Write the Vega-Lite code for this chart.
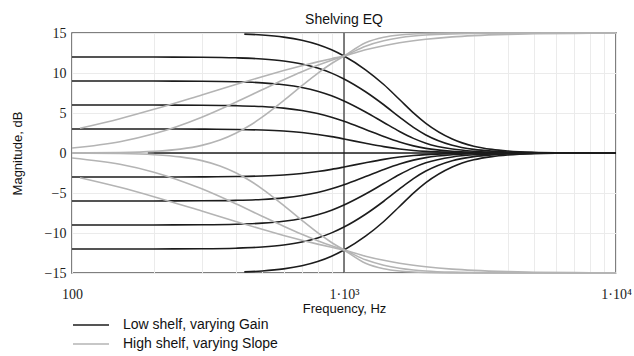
{
  "$schema": "https://vega.github.io/schema/vega-lite/v6.json",
  "width": 544,
  "height": 240,
  "autosize": {"type": "none"},
  "padding": {"left": 72, "top": 33, "right": 18, "bottom": 83},
  "background": "white",
  "title": {"text": "Shelving EQ", "font": "Liberation Sans", "fontSize": 14, "fontWeight": "normal", "color": "#111", "offset": -1, "anchor": "middle"},
  "config": {
    "view": {"stroke": "#555", "strokeWidth": 1.5},
    "axis": {"ticks": false, "domain": false, "grid": true, "gridColor": "#ebebeb", "gridWidth": 1, "labelFont": "Liberation Serif", "labelFontSize": 14, "labelColor": "#222", "titleFont": "Liberation Sans", "titleFontSize": 13, "titleFontWeight": "normal", "titleColor": "#111", "labelOverlap": false, "labelFlush": false}
  },
  "layer": [
    {
      "data": {"values": [{"f": 1000}]},
      "mark": {"type": "rule", "color": "#555", "strokeWidth": 1.5},
      "encoding": {"x": {"field": "f", "type": "quantitative"}}
    },
    {
      "data": {"values": [
        {"c":"L15","t":"Low shelf, varying Gain","f":430,"d":14.859},
        {"c":"L15","t":"Low shelf, varying Gain","f":500,"d":14.745},
        {"c":"L15","t":"Low shelf, varying Gain","f":600,"d":14.489},
        {"c":"L15","t":"Low shelf, varying Gain","f":700,"d":14.098},
        {"c":"L15","t":"Low shelf, varying Gain","f":800,"d":13.565},
        {"c":"L15","t":"Low shelf, varying Gain","f":900,"d":12.898},
        {"c":"L15","t":"Low shelf, varying Gain","f":1000,"d":12.125},
        {"c":"L15","t":"Low shelf, varying Gain","f":1200,"d":10.4},
        {"c":"L15","t":"Low shelf, varying Gain","f":1400,"d":8.56},
        {"c":"L15","t":"Low shelf, varying Gain","f":1600,"d":6.69},
        {"c":"L15","t":"Low shelf, varying Gain","f":1800,"d":5.02},
        {"c":"L15","t":"Low shelf, varying Gain","f":2000,"d":3.71},
        {"c":"L15","t":"Low shelf, varying Gain","f":2500,"d":1.75},
        {"c":"L15","t":"Low shelf, varying Gain","f":3000,"d":0.85},
        {"c":"L15","t":"Low shelf, varying Gain","f":3500,"d":0.45},
        {"c":"L15","t":"Low shelf, varying Gain","f":4000,"d":0.25},
        {"c":"L15","t":"Low shelf, varying Gain","f":5000,"d":0.08},
        {"c":"L15","t":"Low shelf, varying Gain","f":6000,"d":0.03},
        {"c":"L15","t":"Low shelf, varying Gain","f":8000,"d":0.01},
        {"c":"L15","t":"Low shelf, varying Gain","f":10000,"d":0.0},

        {"c":"L12","t":"Low shelf, varying Gain","f":100,"d":12.0},
        {"c":"L12","t":"Low shelf, varying Gain","f":200,"d":11.993},
        {"c":"L12","t":"Low shelf, varying Gain","f":300,"d":11.967},
        {"c":"L12","t":"Low shelf, varying Gain","f":400,"d":11.897},
        {"c":"L12","t":"Low shelf, varying Gain","f":500,"d":11.754},
        {"c":"L12","t":"Low shelf, varying Gain","f":600,"d":11.506},
        {"c":"L12","t":"Low shelf, varying Gain","f":700,"d":11.131},
        {"c":"L12","t":"Low shelf, varying Gain","f":800,"d":10.62},
        {"c":"L12","t":"Low shelf, varying Gain","f":900,"d":9.985},
        {"c":"L12","t":"Low shelf, varying Gain","f":1000,"d":9.256},
        {"c":"L12","t":"Low shelf, varying Gain","f":1200,"d":7.657},
        {"c":"L12","t":"Low shelf, varying Gain","f":1400,"d":6.03},
        {"c":"L12","t":"Low shelf, varying Gain","f":1600,"d":4.49},
        {"c":"L12","t":"Low shelf, varying Gain","f":1800,"d":3.2},
        {"c":"L12","t":"Low shelf, varying Gain","f":2000,"d":2.26},
        {"c":"L12","t":"Low shelf, varying Gain","f":2500,"d":0.97},
        {"c":"L12","t":"Low shelf, varying Gain","f":3000,"d":0.45},
        {"c":"L12","t":"Low shelf, varying Gain","f":3500,"d":0.23},
        {"c":"L12","t":"Low shelf, varying Gain","f":4000,"d":0.12},
        {"c":"L12","t":"Low shelf, varying Gain","f":5000,"d":0.04},
        {"c":"L12","t":"Low shelf, varying Gain","f":6000,"d":0.015},
        {"c":"L12","t":"Low shelf, varying Gain","f":8000,"d":0.005},
        {"c":"L12","t":"Low shelf, varying Gain","f":10000,"d":0.0},

        {"c":"L9","t":"Low shelf, varying Gain","f":100,"d":9.0},
        {"c":"L9","t":"Low shelf, varying Gain","f":200,"d":8.994},
        {"c":"L9","t":"Low shelf, varying Gain","f":300,"d":8.969},
        {"c":"L9","t":"Low shelf, varying Gain","f":400,"d":8.904},
        {"c":"L9","t":"Low shelf, varying Gain","f":500,"d":8.771},
        {"c":"L9","t":"Low shelf, varying Gain","f":600,"d":8.541},
        {"c":"L9","t":"Low shelf, varying Gain","f":700,"d":8.195},
        {"c":"L9","t":"Low shelf, varying Gain","f":800,"d":7.728},
        {"c":"L9","t":"Low shelf, varying Gain","f":900,"d":7.154},
        {"c":"L9","t":"Low shelf, varying Gain","f":1000,"d":6.505},
        {"c":"L9","t":"Low shelf, varying Gain","f":1200,"d":5.131},
        {"c":"L9","t":"Low shelf, varying Gain","f":1400,"d":3.82},
        {"c":"L9","t":"Low shelf, varying Gain","f":1600,"d":2.69},
        {"c":"L9","t":"Low shelf, varying Gain","f":1800,"d":1.83},
        {"c":"L9","t":"Low shelf, varying Gain","f":2000,"d":1.23},
        {"c":"L9","t":"Low shelf, varying Gain","f":2500,"d":0.49},
        {"c":"L9","t":"Low shelf, varying Gain","f":3000,"d":0.22},
        {"c":"L9","t":"Low shelf, varying Gain","f":3500,"d":0.11},
        {"c":"L9","t":"Low shelf, varying Gain","f":4000,"d":0.06},
        {"c":"L9","t":"Low shelf, varying Gain","f":5000,"d":0.02},
        {"c":"L9","t":"Low shelf, varying Gain","f":6000,"d":0.007},
        {"c":"L9","t":"Low shelf, varying Gain","f":8000,"d":0.002},
        {"c":"L9","t":"Low shelf, varying Gain","f":10000,"d":0.0},

        {"c":"L6","t":"Low shelf, varying Gain","f":100,"d":6.0},
        {"c":"L6","t":"Low shelf, varying Gain","f":200,"d":5.995},
        {"c":"L6","t":"Low shelf, varying Gain","f":300,"d":5.974},
        {"c":"L6","t":"Low shelf, varying Gain","f":400,"d":5.918},
        {"c":"L6","t":"Low shelf, varying Gain","f":500,"d":5.804},
        {"c":"L6","t":"Low shelf, varying Gain","f":600,"d":5.61},
        {"c":"L6","t":"Low shelf, varying Gain","f":700,"d":5.32},
        {"c":"L6","t":"Low shelf, varying Gain","f":800,"d":4.934},
        {"c":"L6","t":"Low shelf, varying Gain","f":900,"d":4.472},
        {"c":"L6","t":"Low shelf, varying Gain","f":1000,"d":3.963},
        {"c":"L6","t":"Low shelf, varying Gain","f":1200,"d":2.945},
        {"c":"L6","t":"Low shelf, varying Gain","f":1400,"d":2.06},
        {"c":"L6","t":"Low shelf, varying Gain","f":1600,"d":1.37},
        {"c":"L6","t":"Low shelf, varying Gain","f":1800,"d":0.89},
        {"c":"L6","t":"Low shelf, varying Gain","f":2000,"d":0.58},
        {"c":"L6","t":"Low shelf, varying Gain","f":2500,"d":0.22},
        {"c":"L6","t":"Low shelf, varying Gain","f":3000,"d":0.096},
        {"c":"L6","t":"Low shelf, varying Gain","f":3500,"d":0.048},
        {"c":"L6","t":"Low shelf, varying Gain","f":4000,"d":0.026},
        {"c":"L6","t":"Low shelf, varying Gain","f":5000,"d":0.008},
        {"c":"L6","t":"Low shelf, varying Gain","f":6000,"d":0.003},
        {"c":"L6","t":"Low shelf, varying Gain","f":8000,"d":0.001},
        {"c":"L6","t":"Low shelf, varying Gain","f":10000,"d":0.0},

        {"c":"L3","t":"Low shelf, varying Gain","f":100,"d":3.0},
        {"c":"L3","t":"Low shelf, varying Gain","f":200,"d":2.996},
        {"c":"L3","t":"Low shelf, varying Gain","f":300,"d":2.983},
        {"c":"L3","t":"Low shelf, varying Gain","f":400,"d":2.946},
        {"c":"L3","t":"Low shelf, varying Gain","f":500,"d":2.871},
        {"c":"L3","t":"Low shelf, varying Gain","f":600,"d":2.744},
        {"c":"L3","t":"Low shelf, varying Gain","f":700,"d":2.559},
        {"c":"L3","t":"Low shelf, varying Gain","f":800,"d":2.32},
        {"c":"L3","t":"Low shelf, varying Gain","f":900,"d":2.044},
        {"c":"L3","t":"Low shelf, varying Gain","f":1000,"d":1.754},
        {"c":"L3","t":"Low shelf, varying Gain","f":1200,"d":1.218},
        {"c":"L3","t":"Low shelf, varying Gain","f":1400,"d":0.8},
        {"c":"L3","t":"Low shelf, varying Gain","f":1600,"d":0.51},
        {"c":"L3","t":"Low shelf, varying Gain","f":1800,"d":0.32},
        {"c":"L3","t":"Low shelf, varying Gain","f":2000,"d":0.205},
        {"c":"L3","t":"Low shelf, varying Gain","f":2500,"d":0.076},
        {"c":"L3","t":"Low shelf, varying Gain","f":3000,"d":0.032},
        {"c":"L3","t":"Low shelf, varying Gain","f":3500,"d":0.016},
        {"c":"L3","t":"Low shelf, varying Gain","f":4000,"d":0.009},
        {"c":"L3","t":"Low shelf, varying Gain","f":5000,"d":0.003},
        {"c":"L3","t":"Low shelf, varying Gain","f":6000,"d":0.001},
        {"c":"L3","t":"Low shelf, varying Gain","f":8000,"d":0.0},
        {"c":"L3","t":"Low shelf, varying Gain","f":10000,"d":0.0},

        {"c":"L0","t":"Low shelf, varying Gain","f":190,"d":0.0},
        {"c":"L0","t":"Low shelf, varying Gain","f":10000,"d":0.0},

        {"c":"Lm3","t":"Low shelf, varying Gain","f":100,"d":-3.0},
        {"c":"Lm3","t":"Low shelf, varying Gain","f":200,"d":-2.996},
        {"c":"Lm3","t":"Low shelf, varying Gain","f":300,"d":-2.983},
        {"c":"Lm3","t":"Low shelf, varying Gain","f":400,"d":-2.946},
        {"c":"Lm3","t":"Low shelf, varying Gain","f":500,"d":-2.871},
        {"c":"Lm3","t":"Low shelf, varying Gain","f":600,"d":-2.744},
        {"c":"Lm3","t":"Low shelf, varying Gain","f":700,"d":-2.559},
        {"c":"Lm3","t":"Low shelf, varying Gain","f":800,"d":-2.32},
        {"c":"Lm3","t":"Low shelf, varying Gain","f":900,"d":-2.044},
        {"c":"Lm3","t":"Low shelf, varying Gain","f":1000,"d":-1.754},
        {"c":"Lm3","t":"Low shelf, varying Gain","f":1200,"d":-1.218},
        {"c":"Lm3","t":"Low shelf, varying Gain","f":1400,"d":-0.8},
        {"c":"Lm3","t":"Low shelf, varying Gain","f":1600,"d":-0.51},
        {"c":"Lm3","t":"Low shelf, varying Gain","f":1800,"d":-0.32},
        {"c":"Lm3","t":"Low shelf, varying Gain","f":2000,"d":-0.205},
        {"c":"Lm3","t":"Low shelf, varying Gain","f":2500,"d":-0.076},
        {"c":"Lm3","t":"Low shelf, varying Gain","f":3000,"d":-0.032},
        {"c":"Lm3","t":"Low shelf, varying Gain","f":3500,"d":-0.016},
        {"c":"Lm3","t":"Low shelf, varying Gain","f":4000,"d":-0.009},
        {"c":"Lm3","t":"Low shelf, varying Gain","f":5000,"d":-0.003},
        {"c":"Lm3","t":"Low shelf, varying Gain","f":6000,"d":-0.001},
        {"c":"Lm3","t":"Low shelf, varying Gain","f":8000,"d":0.0},
        {"c":"Lm3","t":"Low shelf, varying Gain","f":10000,"d":0.0},

        {"c":"Lm6","t":"Low shelf, varying Gain","f":100,"d":-6.0},
        {"c":"Lm6","t":"Low shelf, varying Gain","f":200,"d":-5.995},
        {"c":"Lm6","t":"Low shelf, varying Gain","f":300,"d":-5.974},
        {"c":"Lm6","t":"Low shelf, varying Gain","f":400,"d":-5.918},
        {"c":"Lm6","t":"Low shelf, varying Gain","f":500,"d":-5.804},
        {"c":"Lm6","t":"Low shelf, varying Gain","f":600,"d":-5.61},
        {"c":"Lm6","t":"Low shelf, varying Gain","f":700,"d":-5.32},
        {"c":"Lm6","t":"Low shelf, varying Gain","f":800,"d":-4.934},
        {"c":"Lm6","t":"Low shelf, varying Gain","f":900,"d":-4.472},
        {"c":"Lm6","t":"Low shelf, varying Gain","f":1000,"d":-3.963},
        {"c":"Lm6","t":"Low shelf, varying Gain","f":1200,"d":-2.945},
        {"c":"Lm6","t":"Low shelf, varying Gain","f":1400,"d":-2.06},
        {"c":"Lm6","t":"Low shelf, varying Gain","f":1600,"d":-1.37},
        {"c":"Lm6","t":"Low shelf, varying Gain","f":1800,"d":-0.89},
        {"c":"Lm6","t":"Low shelf, varying Gain","f":2000,"d":-0.58},
        {"c":"Lm6","t":"Low shelf, varying Gain","f":2500,"d":-0.22},
        {"c":"Lm6","t":"Low shelf, varying Gain","f":3000,"d":-0.096},
        {"c":"Lm6","t":"Low shelf, varying Gain","f":3500,"d":-0.048},
        {"c":"Lm6","t":"Low shelf, varying Gain","f":4000,"d":-0.026},
        {"c":"Lm6","t":"Low shelf, varying Gain","f":5000,"d":-0.008},
        {"c":"Lm6","t":"Low shelf, varying Gain","f":6000,"d":-0.003},
        {"c":"Lm6","t":"Low shelf, varying Gain","f":8000,"d":-0.001},
        {"c":"Lm6","t":"Low shelf, varying Gain","f":10000,"d":0.0},

        {"c":"Lm9","t":"Low shelf, varying Gain","f":100,"d":-9.0},
        {"c":"Lm9","t":"Low shelf, varying Gain","f":200,"d":-8.994},
        {"c":"Lm9","t":"Low shelf, varying Gain","f":300,"d":-8.969},
        {"c":"Lm9","t":"Low shelf, varying Gain","f":400,"d":-8.904},
        {"c":"Lm9","t":"Low shelf, varying Gain","f":500,"d":-8.771},
        {"c":"Lm9","t":"Low shelf, varying Gain","f":600,"d":-8.541},
        {"c":"Lm9","t":"Low shelf, varying Gain","f":700,"d":-8.195},
        {"c":"Lm9","t":"Low shelf, varying Gain","f":800,"d":-7.728},
        {"c":"Lm9","t":"Low shelf, varying Gain","f":900,"d":-7.154},
        {"c":"Lm9","t":"Low shelf, varying Gain","f":1000,"d":-6.505},
        {"c":"Lm9","t":"Low shelf, varying Gain","f":1200,"d":-5.131},
        {"c":"Lm9","t":"Low shelf, varying Gain","f":1400,"d":-3.82},
        {"c":"Lm9","t":"Low shelf, varying Gain","f":1600,"d":-2.69},
        {"c":"Lm9","t":"Low shelf, varying Gain","f":1800,"d":-1.83},
        {"c":"Lm9","t":"Low shelf, varying Gain","f":2000,"d":-1.23},
        {"c":"Lm9","t":"Low shelf, varying Gain","f":2500,"d":-0.49},
        {"c":"Lm9","t":"Low shelf, varying Gain","f":3000,"d":-0.22},
        {"c":"Lm9","t":"Low shelf, varying Gain","f":3500,"d":-0.11},
        {"c":"Lm9","t":"Low shelf, varying Gain","f":4000,"d":-0.06},
        {"c":"Lm9","t":"Low shelf, varying Gain","f":5000,"d":-0.02},
        {"c":"Lm9","t":"Low shelf, varying Gain","f":6000,"d":-0.007},
        {"c":"Lm9","t":"Low shelf, varying Gain","f":8000,"d":-0.002},
        {"c":"Lm9","t":"Low shelf, varying Gain","f":10000,"d":0.0},

        {"c":"Lm12","t":"Low shelf, varying Gain","f":100,"d":-12.0},
        {"c":"Lm12","t":"Low shelf, varying Gain","f":200,"d":-11.993},
        {"c":"Lm12","t":"Low shelf, varying Gain","f":300,"d":-11.967},
        {"c":"Lm12","t":"Low shelf, varying Gain","f":400,"d":-11.897},
        {"c":"Lm12","t":"Low shelf, varying Gain","f":500,"d":-11.754},
        {"c":"Lm12","t":"Low shelf, varying Gain","f":600,"d":-11.506},
        {"c":"Lm12","t":"Low shelf, varying Gain","f":700,"d":-11.131},
        {"c":"Lm12","t":"Low shelf, varying Gain","f":800,"d":-10.62},
        {"c":"Lm12","t":"Low shelf, varying Gain","f":900,"d":-9.985},
        {"c":"Lm12","t":"Low shelf, varying Gain","f":1000,"d":-9.256},
        {"c":"Lm12","t":"Low shelf, varying Gain","f":1200,"d":-7.657},
        {"c":"Lm12","t":"Low shelf, varying Gain","f":1400,"d":-6.03},
        {"c":"Lm12","t":"Low shelf, varying Gain","f":1600,"d":-4.49},
        {"c":"Lm12","t":"Low shelf, varying Gain","f":1800,"d":-3.2},
        {"c":"Lm12","t":"Low shelf, varying Gain","f":2000,"d":-2.26},
        {"c":"Lm12","t":"Low shelf, varying Gain","f":2500,"d":-0.97},
        {"c":"Lm12","t":"Low shelf, varying Gain","f":3000,"d":-0.45},
        {"c":"Lm12","t":"Low shelf, varying Gain","f":3500,"d":-0.23},
        {"c":"Lm12","t":"Low shelf, varying Gain","f":4000,"d":-0.12},
        {"c":"Lm12","t":"Low shelf, varying Gain","f":5000,"d":-0.04},
        {"c":"Lm12","t":"Low shelf, varying Gain","f":6000,"d":-0.015},
        {"c":"Lm12","t":"Low shelf, varying Gain","f":8000,"d":-0.005},
        {"c":"Lm12","t":"Low shelf, varying Gain","f":10000,"d":0.0},

        {"c":"Lm15","t":"Low shelf, varying Gain","f":430,"d":-14.859},
        {"c":"Lm15","t":"Low shelf, varying Gain","f":500,"d":-14.745},
        {"c":"Lm15","t":"Low shelf, varying Gain","f":600,"d":-14.489},
        {"c":"Lm15","t":"Low shelf, varying Gain","f":700,"d":-14.098},
        {"c":"Lm15","t":"Low shelf, varying Gain","f":800,"d":-13.565},
        {"c":"Lm15","t":"Low shelf, varying Gain","f":900,"d":-12.898},
        {"c":"Lm15","t":"Low shelf, varying Gain","f":1000,"d":-12.125},
        {"c":"Lm15","t":"Low shelf, varying Gain","f":1200,"d":-10.4},
        {"c":"Lm15","t":"Low shelf, varying Gain","f":1400,"d":-8.56},
        {"c":"Lm15","t":"Low shelf, varying Gain","f":1600,"d":-6.69},
        {"c":"Lm15","t":"Low shelf, varying Gain","f":1800,"d":-5.02},
        {"c":"Lm15","t":"Low shelf, varying Gain","f":2000,"d":-3.71},
        {"c":"Lm15","t":"Low shelf, varying Gain","f":2500,"d":-1.75},
        {"c":"Lm15","t":"Low shelf, varying Gain","f":3000,"d":-0.85},
        {"c":"Lm15","t":"Low shelf, varying Gain","f":3500,"d":-0.45},
        {"c":"Lm15","t":"Low shelf, varying Gain","f":4000,"d":-0.25},
        {"c":"Lm15","t":"Low shelf, varying Gain","f":5000,"d":-0.08},
        {"c":"Lm15","t":"Low shelf, varying Gain","f":6000,"d":-0.03},
        {"c":"Lm15","t":"Low shelf, varying Gain","f":8000,"d":-0.01},
        {"c":"Lm15","t":"Low shelf, varying Gain","f":10000,"d":0.0},

        {"c":"H1","t":"High shelf, varying Slope","f":107,"d":3.087},
        {"c":"H1","t":"High shelf, varying Slope","f":150,"d":4.283},
        {"c":"H1","t":"High shelf, varying Slope","f":200,"d":5.458},
        {"c":"H1","t":"High shelf, varying Slope","f":300,"d":7.261},
        {"c":"H1","t":"High shelf, varying Slope","f":400,"d":8.563},
        {"c":"H1","t":"High shelf, varying Slope","f":500,"d":9.542},
        {"c":"H1","t":"High shelf, varying Slope","f":600,"d":10.3},
        {"c":"H1","t":"High shelf, varying Slope","f":700,"d":10.903},
        {"c":"H1","t":"High shelf, varying Slope","f":800,"d":11.39},
        {"c":"H1","t":"High shelf, varying Slope","f":900,"d":11.791},
        {"c":"H1","t":"High shelf, varying Slope","f":1000,"d":12.125},
        {"c":"H1","t":"High shelf, varying Slope","f":1200,"d":12.895},
        {"c":"H1","t":"High shelf, varying Slope","f":1400,"d":13.416},
        {"c":"H1","t":"High shelf, varying Slope","f":1600,"d":13.778},
        {"c":"H1","t":"High shelf, varying Slope","f":1800,"d":14.036},
        {"c":"H1","t":"High shelf, varying Slope","f":2000,"d":14.225},
        {"c":"H1","t":"High shelf, varying Slope","f":2500,"d":14.519},
        {"c":"H1","t":"High shelf, varying Slope","f":3000,"d":14.677},
        {"c":"H1","t":"High shelf, varying Slope","f":4000,"d":14.83},
        {"c":"H1","t":"High shelf, varying Slope","f":5000,"d":14.897},
        {"c":"H1","t":"High shelf, varying Slope","f":7000,"d":14.953},
        {"c":"H1","t":"High shelf, varying Slope","f":10000,"d":14.979},

        {"c":"H2","t":"High shelf, varying Slope","f":100,"d":0.617},
        {"c":"H2","t":"High shelf, varying Slope","f":150,"d":1.415},
        {"c":"H2","t":"High shelf, varying Slope","f":200,"d":2.4},
        {"c":"H2","t":"High shelf, varying Slope","f":300,"d":4.483},
        {"c":"H2","t":"High shelf, varying Slope","f":400,"d":6.354},
        {"c":"H2","t":"High shelf, varying Slope","f":500,"d":7.902},
        {"c":"H2","t":"High shelf, varying Slope","f":600,"d":9.152},
        {"c":"H2","t":"High shelf, varying Slope","f":700,"d":10.154},
        {"c":"H2","t":"High shelf, varying Slope","f":800,"d":10.957},
        {"c":"H2","t":"High shelf, varying Slope","f":900,"d":11.603},
        {"c":"H2","t":"High shelf, varying Slope","f":1000,"d":12.125},
        {"c":"H2","t":"High shelf, varying Slope","f":1200,"d":13.357},
        {"c":"H2","t":"High shelf, varying Slope","f":1400,"d":14.031},
        {"c":"H2","t":"High shelf, varying Slope","f":1600,"d":14.404},
        {"c":"H2","t":"High shelf, varying Slope","f":1800,"d":14.618},
        {"c":"H2","t":"High shelf, varying Slope","f":2000,"d":14.745},
        {"c":"H2","t":"High shelf, varying Slope","f":2500,"d":14.894},
        {"c":"H2","t":"High shelf, varying Slope","f":3000,"d":14.949},
        {"c":"H2","t":"High shelf, varying Slope","f":4000,"d":14.984},
        {"c":"H2","t":"High shelf, varying Slope","f":5000,"d":14.993},
        {"c":"H2","t":"High shelf, varying Slope","f":7000,"d":14.998},
        {"c":"H2","t":"High shelf, varying Slope","f":10000,"d":15.0},

        {"c":"H3","t":"High shelf, varying Slope","f":100,"d":0.013},
        {"c":"H3","t":"High shelf, varying Slope","f":150,"d":0.067},
        {"c":"H3","t":"High shelf, varying Slope","f":200,"d":0.207},
        {"c":"H3","t":"High shelf, varying Slope","f":250,"d":0.489},
        {"c":"H3","t":"High shelf, varying Slope","f":300,"d":0.955},
        {"c":"H3","t":"High shelf, varying Slope","f":350,"d":1.621},
        {"c":"H3","t":"High shelf, varying Slope","f":400,"d":2.466},
        {"c":"H3","t":"High shelf, varying Slope","f":450,"d":3.436},
        {"c":"H3","t":"High shelf, varying Slope","f":500,"d":4.474},
        {"c":"H3","t":"High shelf, varying Slope","f":600,"d":6.545},
        {"c":"H3","t":"High shelf, varying Slope","f":700,"d":8.407},
        {"c":"H3","t":"High shelf, varying Slope","f":800,"d":9.956},
        {"c":"H3","t":"High shelf, varying Slope","f":900,"d":11.183},
        {"c":"H3","t":"High shelf, varying Slope","f":1000,"d":12.125},
        {"c":"H3","t":"High shelf, varying Slope","f":1200,"d":13.791},
        {"c":"H3","t":"High shelf, varying Slope","f":1400,"d":14.477},
        {"c":"H3","t":"High shelf, varying Slope","f":1600,"d":14.757},
        {"c":"H3","t":"High shelf, varying Slope","f":1800,"d":14.878},
        {"c":"H3","t":"High shelf, varying Slope","f":2000,"d":14.935},
        {"c":"H3","t":"High shelf, varying Slope","f":2500,"d":14.983},
        {"c":"H3","t":"High shelf, varying Slope","f":3000,"d":14.994},
        {"c":"H3","t":"High shelf, varying Slope","f":4000,"d":15.0},
        {"c":"H3","t":"High shelf, varying Slope","f":10000,"d":15.0},

        {"c":"Hm1","t":"High shelf, varying Slope","f":107,"d":-3.087},
        {"c":"Hm1","t":"High shelf, varying Slope","f":150,"d":-4.283},
        {"c":"Hm1","t":"High shelf, varying Slope","f":200,"d":-5.458},
        {"c":"Hm1","t":"High shelf, varying Slope","f":300,"d":-7.261},
        {"c":"Hm1","t":"High shelf, varying Slope","f":400,"d":-8.563},
        {"c":"Hm1","t":"High shelf, varying Slope","f":500,"d":-9.542},
        {"c":"Hm1","t":"High shelf, varying Slope","f":600,"d":-10.3},
        {"c":"Hm1","t":"High shelf, varying Slope","f":700,"d":-10.903},
        {"c":"Hm1","t":"High shelf, varying Slope","f":800,"d":-11.39},
        {"c":"Hm1","t":"High shelf, varying Slope","f":900,"d":-11.791},
        {"c":"Hm1","t":"High shelf, varying Slope","f":1000,"d":-12.125},
        {"c":"Hm1","t":"High shelf, varying Slope","f":1200,"d":-12.895},
        {"c":"Hm1","t":"High shelf, varying Slope","f":1400,"d":-13.416},
        {"c":"Hm1","t":"High shelf, varying Slope","f":1600,"d":-13.778},
        {"c":"Hm1","t":"High shelf, varying Slope","f":1800,"d":-14.036},
        {"c":"Hm1","t":"High shelf, varying Slope","f":2000,"d":-14.225},
        {"c":"Hm1","t":"High shelf, varying Slope","f":2500,"d":-14.519},
        {"c":"Hm1","t":"High shelf, varying Slope","f":3000,"d":-14.677},
        {"c":"Hm1","t":"High shelf, varying Slope","f":4000,"d":-14.83},
        {"c":"Hm1","t":"High shelf, varying Slope","f":5000,"d":-14.897},
        {"c":"Hm1","t":"High shelf, varying Slope","f":7000,"d":-14.953},
        {"c":"Hm1","t":"High shelf, varying Slope","f":10000,"d":-14.979},

        {"c":"Hm2","t":"High shelf, varying Slope","f":100,"d":-0.617},
        {"c":"Hm2","t":"High shelf, varying Slope","f":150,"d":-1.415},
        {"c":"Hm2","t":"High shelf, varying Slope","f":200,"d":-2.4},
        {"c":"Hm2","t":"High shelf, varying Slope","f":300,"d":-4.483},
        {"c":"Hm2","t":"High shelf, varying Slope","f":400,"d":-6.354},
        {"c":"Hm2","t":"High shelf, varying Slope","f":500,"d":-7.902},
        {"c":"Hm2","t":"High shelf, varying Slope","f":600,"d":-9.152},
        {"c":"Hm2","t":"High shelf, varying Slope","f":700,"d":-10.154},
        {"c":"Hm2","t":"High shelf, varying Slope","f":800,"d":-10.957},
        {"c":"Hm2","t":"High shelf, varying Slope","f":900,"d":-11.603},
        {"c":"Hm2","t":"High shelf, varying Slope","f":1000,"d":-12.125},
        {"c":"Hm2","t":"High shelf, varying Slope","f":1200,"d":-13.357},
        {"c":"Hm2","t":"High shelf, varying Slope","f":1400,"d":-14.031},
        {"c":"Hm2","t":"High shelf, varying Slope","f":1600,"d":-14.404},
        {"c":"Hm2","t":"High shelf, varying Slope","f":1800,"d":-14.618},
        {"c":"Hm2","t":"High shelf, varying Slope","f":2000,"d":-14.745},
        {"c":"Hm2","t":"High shelf, varying Slope","f":2500,"d":-14.894},
        {"c":"Hm2","t":"High shelf, varying Slope","f":3000,"d":-14.949},
        {"c":"Hm2","t":"High shelf, varying Slope","f":4000,"d":-14.984},
        {"c":"Hm2","t":"High shelf, varying Slope","f":5000,"d":-14.993},
        {"c":"Hm2","t":"High shelf, varying Slope","f":7000,"d":-14.998},
        {"c":"Hm2","t":"High shelf, varying Slope","f":10000,"d":-15.0},

        {"c":"Hm3","t":"High shelf, varying Slope","f":100,"d":-0.013},
        {"c":"Hm3","t":"High shelf, varying Slope","f":150,"d":-0.067},
        {"c":"Hm3","t":"High shelf, varying Slope","f":200,"d":-0.207},
        {"c":"Hm3","t":"High shelf, varying Slope","f":250,"d":-0.489},
        {"c":"Hm3","t":"High shelf, varying Slope","f":300,"d":-0.955},
        {"c":"Hm3","t":"High shelf, varying Slope","f":350,"d":-1.621},
        {"c":"Hm3","t":"High shelf, varying Slope","f":400,"d":-2.466},
        {"c":"Hm3","t":"High shelf, varying Slope","f":450,"d":-3.436},
        {"c":"Hm3","t":"High shelf, varying Slope","f":500,"d":-4.474},
        {"c":"Hm3","t":"High shelf, varying Slope","f":600,"d":-6.545},
        {"c":"Hm3","t":"High shelf, varying Slope","f":700,"d":-8.407},
        {"c":"Hm3","t":"High shelf, varying Slope","f":800,"d":-9.956},
        {"c":"Hm3","t":"High shelf, varying Slope","f":900,"d":-11.183},
        {"c":"Hm3","t":"High shelf, varying Slope","f":1000,"d":-12.125},
        {"c":"Hm3","t":"High shelf, varying Slope","f":1200,"d":-13.791},
        {"c":"Hm3","t":"High shelf, varying Slope","f":1400,"d":-14.477},
        {"c":"Hm3","t":"High shelf, varying Slope","f":1600,"d":-14.757},
        {"c":"Hm3","t":"High shelf, varying Slope","f":1800,"d":-14.878},
        {"c":"Hm3","t":"High shelf, varying Slope","f":2000,"d":-14.935},
        {"c":"Hm3","t":"High shelf, varying Slope","f":2500,"d":-14.983},
        {"c":"Hm3","t":"High shelf, varying Slope","f":3000,"d":-14.994},
        {"c":"Hm3","t":"High shelf, varying Slope","f":4000,"d":-15.0},
        {"c":"Hm3","t":"High shelf, varying Slope","f":10000,"d":-15.0}
      ]},
      "mark": {"type": "line", "interpolate": "monotone", "strokeWidth": 1.6},
      "encoding": {
        "x": {"field": "f", "type": "quantitative",
              "scale": {"type": "log", "domain": [100, 10000], "nice": false},
              "axis": {"values": [100,200,300,400,500,600,700,800,900,1000,2000,3000,4000,5000,6000,7000,8000,9000,10000],
                       "labelExpr": "datum.value == 100 ? '100' : datum.value == 1000 ? '1·10³' : datum.value == 10000 ? '1·10⁴' : ''",
                       "labelPadding": 14, "title": "Frequency, Hz", "titleX": 272, "titleY": 35, "titleBaseline": "middle", "titleAlign": "center"}},
        "y": {"field": "d", "type": "quantitative",
              "scale": {"domain": [-15, 15], "nice": false, "zero": false},
              "axis": {"values": [-15,-10,-5,0,5,10,15], "labelPadding": 6, "title": "Magnitude, dB",
                       "titleX": -55, "titleY": 120, "titleAngle": -90, "titleAlign": "center", "titleBaseline": "middle"}},
        "color": {"field": "t", "type": "nominal",
                  "scale": {"domain": ["Low shelf, varying Gain", "High shelf, varying Slope"], "range": ["#1c1c1c", "#b4b4b4"]},
                  "legend": {"orient": "none", "legendX": 0, "legendY": 285, "title": null, "padding": 0,
                             "symbolType": "M-3,0H3", "symbolSize": 144, "symbolStrokeWidth": 1.5, "symbolOffset": 12,
                             "labelOffset": 25, "labelFont": "Liberation Sans", "labelFontSize": 14, "labelColor": "#111",
                             "rowPadding": 5}},
        "detail": {"field": "c", "type": "nominal"}
      }
    }
  ]
}
